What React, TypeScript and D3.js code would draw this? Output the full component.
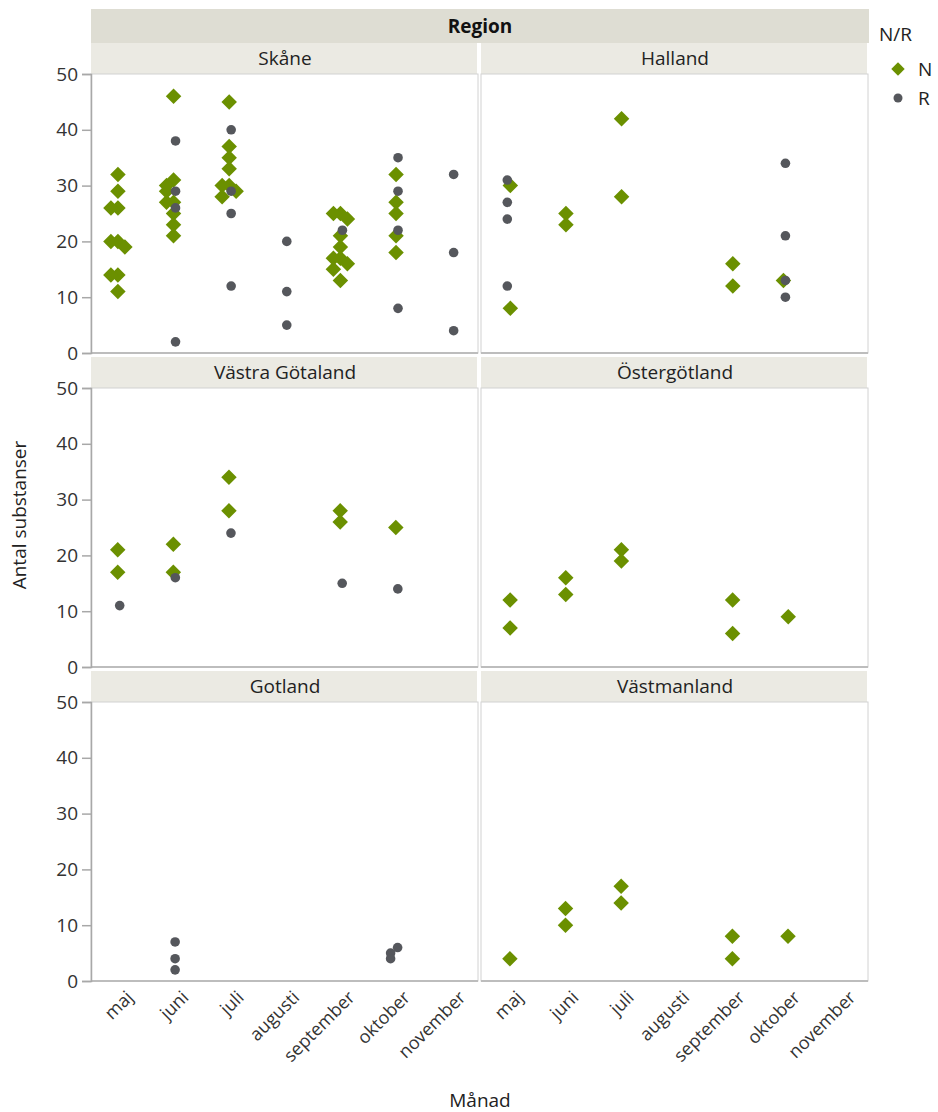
import React, { useRef, useEffect } from "react";
import * as d3 from "d3";

// categories
const months = ["maj", "juni", "juli", "augusti", "september", "oktober", "november"];
const regions = ["Skåne", "Halland", "Västra Götaland", "Östergötland", "Gotland", "Västmanland"];
const yTicks = [0, 10, 20, 30, 40, 50];

// values per month (maj .. november), N = diamonds, R = dots
const skaneN = [[32, 29, 26, 26, 20, 20, 19, 14, 14, 11], [46, 31, 30, 29, 27, 27, 25, 23, 21], [45, 37, 35, 33, 30, 30, 29, 28], [], [25, 25, 24, 21, 19, 17, 17, 16, 15, 13], [32, 27, 25, 21, 18], []];
const skaneR = [[], [38, 29, 26, 2], [40, 29, 25, 12], [20, 11, 5], [22], [35, 29, 22, 8], [32, 18, 4]];
const hallandN = [[30, 8], [25, 23], [42, 28], [], [16, 12], [13], []];
const hallandR = [[31, 27, 24, 12], [], [], [], [], [34, 21, 13, 10], []];
const vgN = [[21, 17], [22, 17], [34, 28], [], [28, 26], [25], []];
const vgR = [[11], [16], [24], [], [15], [14], []];
const ostN = [[12, 7], [16, 13], [21, 19], [], [12, 6], [9], []];
const ostR = [[], [], [], [], [], [], []];
const gotlandN = [[], [], [], [], [], [], []];
const gotlandR = [[], [7, 4, 2], [], [], [], [6, 5, 4], []];
const vmN = [[4], [13, 10], [17, 14], [], [8, 4], [8], []];
const vmR = [[], [], [], [], [], [], []];

const seriesN = [skaneN, hallandN, vgN, ostN, gotlandN, vmN];
const seriesR = [skaneR, hallandR, vgR, ostR, gotlandR, vmR];

const GREEN = "#6b9000";
const GREY = "#55575c";
const FONT = "'Open Sans', 'Noto Sans', sans-serif";

// deterministic jitter so overlapping values spread a little
function jitter(key: string, vals: number[], k: number) {
  let h = 0;
  for (let i = 0; i < key.length; i++) h = (h * 31 + key.charCodeAt(i)) | 0;
  const noise = ((Math.abs(h) % 1000) / 1000 - 0.5) * 5;
  let c = 0;
  for (let j = 0; j < k; j++) if (Math.abs(vals[j] - vals[k]) <= 1.5) c++;
  const pattern = [0, -7, 7, -4, 4, -9, 9];
  return pattern[c % pattern.length] + noise;
}

const App = () => {
  const container = useRef(null);

  const width = 938;
  const height = 1112;
  const colX = [91, 481];
  const panelW = 388;
  const rowTop = [43, 357, 671];
  const stripH = 31;
  const plotH = 279;

  useEffect(() => {
    const svg = d3.select(container.current);
    svg.selectAll("*").remove();

    // top header
    svg.append("rect").attr("x", 91).attr("y", 9).attr("width", 778).attr("height", 34).attr("fill", "#deddd3");
    svg.append("text").attr("x", 480).attr("y", 33).attr("text-anchor", "middle")
      .style("font-family", FONT).style("font-size", "19px").style("font-weight", "bold").style("fill", "#111")
      .text("Region");

    regions.forEach((name, idx) => {
      const col = idx % 2;
      const row = Math.floor(idx / 2);
      const x0 = colX[col];
      const top = rowTop[row];
      const py0 = top + stripH;

      const xScale = d3.scalePoint().domain(months).range([x0, x0 + panelW]).padding(0.5);
      const yScale = d3.scaleLinear().domain([0, 50]).range([py0 + plotH, py0]);

      const g = svg.append("g");

      // strip
      g.append("rect").attr("x", x0).attr("y", top).attr("width", panelW - 2).attr("height", stripH).attr("fill", "#ebeae3");
      g.append("text").attr("x", x0 + panelW / 2).attr("y", top + 22).attr("text-anchor", "middle")
        .style("font-family", FONT).style("font-size", "19px").style("fill", "#222").text(name);

      // plot frame
      g.append("rect").attr("x", x0).attr("y", py0).attr("width", panelW - 1).attr("height", plotH)
        .attr("fill", "white").attr("stroke", "#d2d2d2").attr("stroke-width", 1);
      g.append("line").attr("x1", x0).attr("x2", x0 + panelW - 1).attr("y1", py0 + plotH).attr("y2", py0 + plotH)
        .attr("stroke", "#bdbdbd").attr("stroke-width", 2);

      if (col === 0) {
        const yAxis = d3.axisLeft(yScale).tickValues(yTicks).tickSize(9).tickPadding(4);
        const ya = g.append("g").attr("transform", `translate(${x0}, 0)`).call(yAxis);
        ya.select(".domain").attr("stroke", "#a8a8a8").attr("stroke-width", 1.5);
        ya.selectAll(".tick line").attr("stroke", "#a8a8a8").attr("stroke-width", 1.5);
        ya.selectAll(".tick text").style("font-family", FONT).style("font-size", "19px").style("fill", "#333");
      }

      if (row === 2) {
        g.selectAll(".mlabel").data(months).enter().append("text")
          .attr("transform", (d) => `translate(${(xScale(d) as number) + 11}, ${py0 + plotH + 13}) rotate(-45)`)
          .attr("text-anchor", "end").attr("dy", "0.35em")
          .style("font-family", FONT).style("font-size", "18px").style("fill", "#333")
          .text((d) => d);
      }

      // N diamonds
      const nPts: { x: number; v: number }[] = [];
      seriesN[idx].forEach((vals, mi) => {
        vals.forEach((v, k) => nPts.push({ x: (xScale(months[mi]) as number) + jitter(`N${idx}-${mi}-${k}`, vals, k), v }));
      });
      const diamond = d3.symbol().type(d3.symbolSquare).size(120);
      g.selectAll(".n").data(nPts).enter().append("path")
        .attr("d", diamond as any)
        .attr("transform", (d) => `translate(${d.x}, ${yScale(d.v)}) rotate(45)`)
        .attr("fill", GREEN);

      // R dots
      const rPts: { x: number; v: number }[] = [];
      seriesR[idx].forEach((vals, mi) => {
        vals.forEach((v, k) => rPts.push({ x: (xScale(months[mi]) as number) + jitter(`R${idx}-${mi}-${k}`, vals, k), v }));
      });
      g.selectAll(".r").data(rPts).enter().append("circle")
        .attr("cx", (d) => d.x).attr("cy", (d) => yScale(d.v)).attr("r", 4.8)
        .attr("fill", GREY);
    });

    // axis titles
    svg.append("text").attr("transform", "translate(26, 515) rotate(-90)").attr("text-anchor", "middle")
      .style("font-family", FONT).style("font-size", "19px").style("fill", "#222").text("Antal substanser");
    svg.append("text").attr("x", 480).attr("y", 1107).attr("text-anchor", "middle")
      .style("font-family", FONT).style("font-size", "19px").style("fill", "#222").text("Månad");

    // legend
    const legend = svg.append("g");
    legend.append("text").attr("x", 879).attr("y", 41)
      .style("font-family", FONT).style("font-size", "19px").style("fill", "#222").text("N/R");
    legend.append("path").attr("d", d3.symbol().type(d3.symbolSquare).size(90)() as string)
      .attr("transform", "translate(898, 69) rotate(45)").attr("fill", GREEN);
    legend.append("text").attr("x", 918).attr("y", 76)
      .style("font-family", FONT).style("font-size", "19px").style("fill", "#222").text("N");
    legend.append("circle").attr("cx", 898).attr("cy", 98).attr("r", 4.5).attr("fill", GREY);
    legend.append("text").attr("x", 918).attr("y", 105)
      .style("font-family", FONT).style("font-size", "19px").style("fill", "#222").text("R");
  }, []);

  return (
    <svg
      ref={container}
      width={width}
      height={height}
      style={{ position: "absolute", left: 0, top: 0, background: "white" }}
    />
  );
};

export default App;
